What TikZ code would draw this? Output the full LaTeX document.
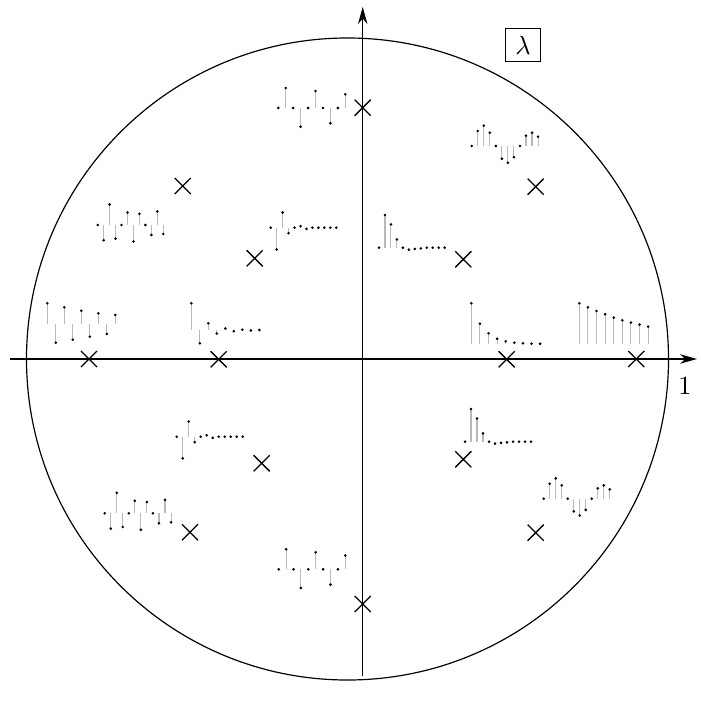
\documentclass[tikz,border=0pt]{standalone}
\usepackage{amsmath}
\usepackage{tikz}
\usetikzlibrary{arrows.meta,shapes.misc}

% impulse response: first x, baseline y, spacing, samples
\newcommand{\stemplot}[4]{%
  \foreach \v [count=\i from 0] in {#4} {
    \draw[stem] ({#1+\i*#3},#2) -- ({#1+\i*#3},{#2-(\v)});
    \fill ({#1+\i*#3},{#2-(\v)}) circle[radius=0.55pt];
  }%
}

\begin{document}
\begin{tikzpicture}[
  x=0.38pt, y=-0.38pt,
  axis/.style={-{Stealth[length=6.5pt,width=3.6pt]}, line width=0.45pt},
  stem/.style={gray!55, line width=0.4pt},
  pole/.style={cross out, draw, line width=0.5pt, inner sep=0pt, minimum size=5.6pt}
]
\useasboundingbox (0,0) rectangle (700,704);
% unit circle and axes
\draw[line width=0.45pt] (347.5,359) circle[radius=321];
\coordinate (xl) at (10,359);
\coordinate (xr) at (697,359);
\coordinate (yb) at (362.7,676);
\coordinate (yt) at (362.7,7);
\draw[axis] (xl) -- (xr);
\draw[axis] (yb) -- (yt);
\node (one) at (685,386) {$1$};
\node[draw, line width=0.4pt, minimum width=13.6pt, minimum height=12.2pt, inner sep=1pt] (lam) at (523,45) {$\lambda$};

% poles
\foreach \x/\y [count=\k] in {362.7/107.7, 535.7/186.7, 182.7/186, 254.7/258.3,
    463.3/259.3, 89/359, 218.7/359.3, 506.7/359.3, 636.3/359, 261.7/463.3,
    463.3/459.3, 190/532.3, 535.7/532.7, 362.7/604}
  \node[pole] (p\k) at (\x,\y) {};

% responses, upper half
\stemplot{278.3}{108}{7.44}{0,20,0,-18.7,0,17,0,-15.3,0,13.7}
\stemplot{471.7}{146}{6.03}{0,15,20.3,13.3,0,-12.7,-16.8,-11.2,0,10.3,13.3,9.3}
\stemplot{97.7}{225}{5.96}{0,-15.3,20.5,-13.7,0,12.5,-16.5,11.2,0,-10,13.5,-9}
\stemplot{270.7}{227.7}{5.96}{0,-21.7,15.2,-5.5,0,1.5,-1.2,0,0,0,0,0}
\stemplot{379}{247.7}{5.97}{0,32.7,23.2,8.3,0,-2,-1.2,-0.7,0,0,0,0}
% responses on the real axis
\stemplot{47.3}{324}{8.5}{20.7,-18.7,16.7,-15.7,13.3,-12.7,10.7,-10,9}
\stemplot{191.3}{330}{8.5}{26.7,-13.3,6.7,-3.6,1.5,-1.2,0.3,-0.5,0}
\stemplot{471.3}{344}{8.6}{40.7,20.3,10.7,5.3,2.7,1.3,0.7,0.3,0.3}
\stemplot{579.3}{344.3}{8.6}{41,37,33.3,30,26.7,24,21.7,19.7,17.7}
% responses, lower half
\stemplot{176.7}{436.7}{6}{0,-21.7,15.2,-5.5,0,1.5,-1.2,0,0,0,0,0}
\stemplot{465}{441.7}{6}{0,32.7,23.2,8.3,0,-2,-1.2,-0.7,0,0,0,0}
\stemplot{104.7}{513.3}{6.03}{0,-15.3,20.5,-13.7,0,12.5,-16.5,11.2,0,-10,13.5,-9}
\stemplot{543.7}{498.7}{6}{0,15,20.3,13.3,0,-12.7,-16.8,-11.2,0,10.3,13.3,9.3}
\stemplot{278.7}{569.3}{7.4}{0,20,0,-18.7,0,17,0,-15.3,0,13.7}
\end{tikzpicture}
\end{document}
